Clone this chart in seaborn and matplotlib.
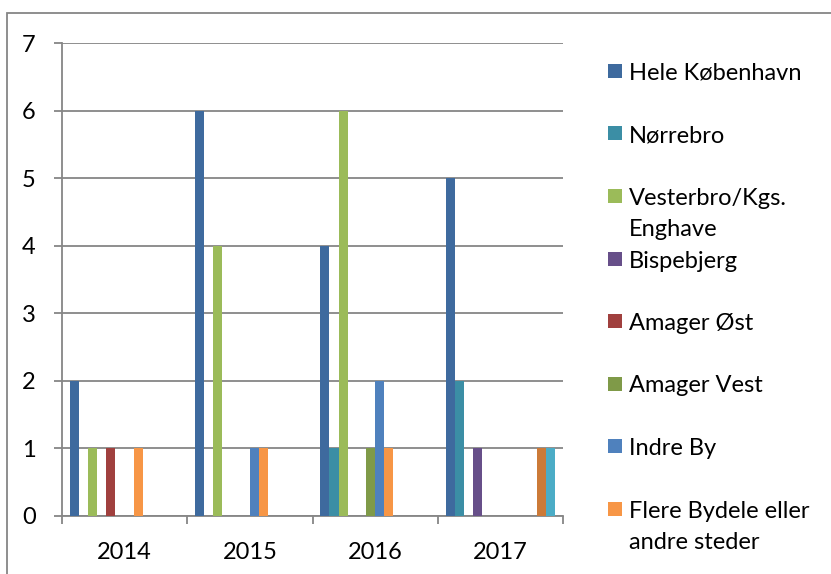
import numpy as np
import pandas as pd
import matplotlib
matplotlib.use("Agg")
import matplotlib.pyplot as plt
from matplotlib.patches import Rectangle
import seaborn as sns

years = ["2014", "2015", "2016", "2017"]
districts = ["Hele København", "Nørrebro", "Vesterbro/Kgs.\nEnghave", "Bispebjerg",
             "Amager Øst", "Amager Vest", "Indre By", "Flere Bydele eller\nandre steder",
             "Østerbro", "Valby", "Vanløse", "Brønshøj-Husum"]
hele = [2, 6, 4, 5]
norrebro = [0, 0, 1, 2]
vesterbro = [1, 4, 6, 0]
bispebjerg = [0, 0, 0, 1]
amager_ost = [1, 0, 0, 0]
amager_vest = [0, 0, 1, 0]
indre_by = [0, 1, 2, 0]
flere = [1, 1, 1, 0]
osterbro = [0, 0, 0, 0]
valby = [0, 0, 0, 0]
vanlose = [0, 0, 0, 1]
bronshoj = [0, 0, 0, 1]
series = [hele, norrebro, vesterbro, bispebjerg, amager_ost, amager_vest,
          indre_by, flere, osterbro, valby, vanlose, bronshoj]
colors = ["#3E6A9E", "#3B8EA5", "#9BBB59", "#674F89", "#A0403E", "#7F9A48",
          "#4F81BD", "#F79646", "#772C2A", "#5F7530", "#CC7A38", "#4BACC6"]
legend_count = 8

rows = []
for name, vals in zip(districts, series):
    for y, v in zip(years, vals):
        rows.append({"year": y, "district": name, "value": v})
df = pd.DataFrame(rows)

sns.set_style("white")
plt.rcParams['font.family'] = ['Lato', 'DejaVu Sans']

fig = plt.figure(figsize=(8.31, 5.74), dpi=100)
ax = fig.add_axes([62/831, 1-516/574, (563-62)/831, (516-43)/574])

gray = "#868686"
fs = 17
sns.barplot(data=df, x="year", y="value", hue="district", order=years,
            hue_order=districts, palette=colors, width=0.875, gap=0,
            linewidth=0, saturation=1, legend=False, ax=ax, zorder=3)

ax.set_ylim(0, 7)
ax.set_xlim(-0.5, 3.5)
ax.set_yticks(range(0, 8))
ax.yaxis.grid(True, color=gray, linewidth=1.3, zorder=0)
ax.set_axisbelow(True)
for s in ["top", "right"]:
    ax.spines[s].set_visible(False)
for s in ["left", "bottom"]:
    ax.spines[s].set_color(gray)
    ax.spines[s].set_linewidth(1.3)
ax.tick_params(axis="y", length=6, width=1.3, color=gray, pad=13, labelsize=fs,
               labelcolor="black", left=True)
ax.tick_params(axis="x", which="major", length=0, pad=19, labelsize=fs,
               labelcolor="black")
ax.set_xticks([-0.5, 0.5, 1.5, 2.5, 3.5], minor=True)
ax.tick_params(axis="x", which="minor", length=6, width=1.3, color=gray,
               direction="out", bottom=True)
ax.set_xlabel("")
ax.set_ylabel("")

# legend (manual, Excel style)
sq = 14
x0 = 608
y_first = 71
step = 62.5
for i in range(legend_count):
    cy = y_first + i * step
    fig.add_artist(Rectangle((x0/831, 1-(cy+sq/2)/574), sq/831, sq/574,
                             transform=fig.transFigure, facecolor=colors[i],
                             edgecolor="none"))
    fig.text(629/831, 1-(cy-8)/574, districts[i], fontsize=fs, va="top",
             ha="left", linespacing=1.6, color="black")

# chart area border
fig.add_artist(Rectangle((7/831, -0.1), 2, 1.1 - 13/574, transform=fig.transFigure,
                         facecolor="none", edgecolor=gray, linewidth=1.3))

fig.savefig("out.png", dpi=100)
